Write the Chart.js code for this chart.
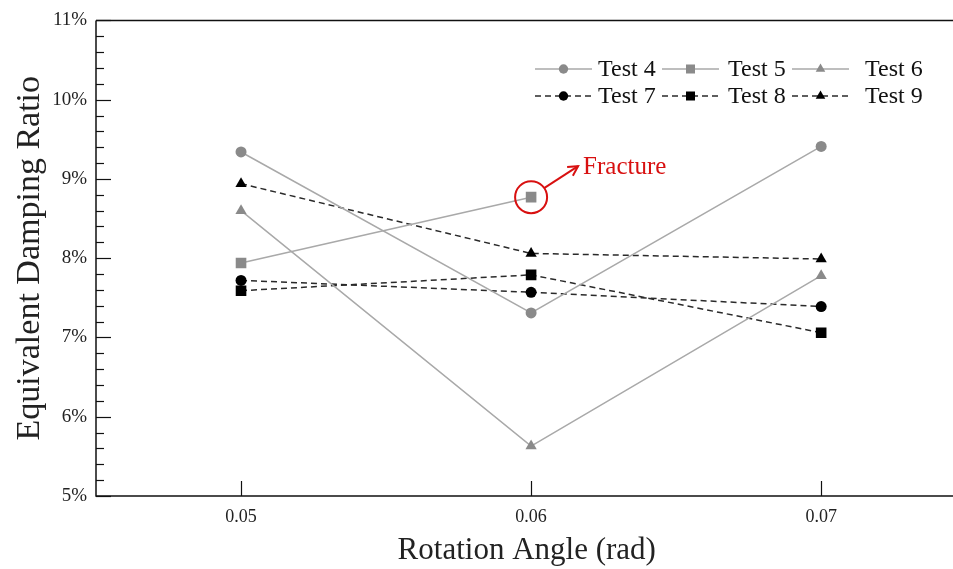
<!DOCTYPE html>
<html>
<head>
<meta charset="utf-8">
<script src="https://cdn.jsdelivr.net/npm/chart.js@4/dist/chart.umd.min.js"></script>
<style>
  body { margin: 0; background: #fff; overflow: hidden; }
  #wrap { width: 965px; height: 569px; }
</style>
</head>
<body>
<div id="wrap"><canvas id="chart" width="965" height="569"></canvas></div>
<script>
// Rotation angle (rad) on the x axis
const angles = [0.05, 0.06, 0.07];

// Equivalent damping ratio (%) per test
const test4 = [9.34, 7.31, 9.41];
const test5 = [7.94, 8.77, null];   // fractured after 0.06 rad
const test6 = [8.60, 5.63, 7.78];
const test7 = [7.72, 7.57, 7.39];
const test8 = [7.59, 7.79, 7.06];
const test9 = [8.94, 8.06, 7.99];

const seriesNames = ['Test 4', 'Test 5', 'Test 6', 'Test 7', 'Test 8', 'Test 9'];
const seriesValues = [test4, test5, test6, test7, test8, test9];
const seriesMarkers = ['circle', 'rect', 'triangle', 'circle', 'rect', 'triangle'];

const SERIF = '"Liberation Serif", "DejaVu Serif", serif';
const GREY_LINE = '#a9a9a9';
const GREY_MARK = '#8a8a8a';
const RED = '#d81010';

function toPoints(values) {
    return angles.map((a, i) => ({ x: a, y: values[i] })).filter(p => p.y !== null);
}

function markerRadius(style) {
    if (style === 'rect') return 7.5;
    if (style === 'triangle') return 6.5;
    return 5.5;
}

const datasets = seriesNames.map((name, i) => {
    const dashed = i >= 3;
    const marker = seriesMarkers[i];
    return {
        label: name,
        data: toPoints(seriesValues[i]),
        borderColor: dashed ? '#2a2a2a' : GREY_LINE,
        borderWidth: 1.5,
        borderDash: dashed ? [6, 4] : [],
        backgroundColor: dashed ? '#000' : GREY_MARK,
        pointBackgroundColor: dashed ? '#000' : GREY_MARK,
        pointBorderColor: dashed ? '#000' : GREY_MARK,
        pointBorderWidth: 0,
        pointStyle: marker,
        pointRadius: markerRadius(marker),
        tension: 0,
        fill: false
    };
});

// Frame, inward tick marks, legend and the fracture note
const decorations = {
    id: 'decorations',
    afterDraw(chart) {
        const ctx = chart.ctx;
        const area = chart.chartArea;
        const xs = chart.scales.x;
        const ys = chart.scales.y;

        ctx.save();
        ctx.strokeStyle = '#111';
        ctx.lineWidth = 1.5;
        ctx.setLineDash([]);
        ctx.beginPath();
        ctx.moveTo(area.left, area.top);
        ctx.lineTo(area.right, area.top);
        ctx.moveTo(area.left, area.top);
        ctx.lineTo(area.left, area.bottom);
        ctx.lineTo(area.right, area.bottom);
        ctx.stroke();

        // y ticks (major every 1%, minor every 0.2%)
        ctx.lineWidth = 1.2;
        ys.ticks.forEach(t => {
            const y = Math.round(ys.getPixelForValue(t.value)) + 0.5;
            const major = Math.abs(t.value - Math.round(t.value)) < 1e-6;
            ctx.beginPath();
            ctx.moveTo(area.left, y);
            ctx.lineTo(area.left + (major ? 15 : 8), y);
            ctx.stroke();
        });
        // x ticks
        xs.ticks.forEach(t => {
            const x = Math.round(xs.getPixelForValue(t.value)) + 0.5;
            ctx.beginPath();
            ctx.moveTo(x, area.bottom);
            ctx.lineTo(x, area.bottom - 15);
            ctx.stroke();
        });

        // legend, two rows of three
        const lineStarts = [535, 662, 792];
        const textStarts = [598, 728, 865];
        const rowY = [69, 96];
        ctx.font = '24px ' + SERIF;
        ctx.textBaseline = 'middle';
        ctx.textAlign = 'left';
        chart.data.datasets.forEach((ds, i) => {
            const col = i % 3;
            const y = rowY[Math.floor(i / 3)];
            const x0 = lineStarts[col];
            const x1 = x0 + 57;
            ctx.strokeStyle = ds.borderColor;
            ctx.lineWidth = ds.borderWidth;
            ctx.setLineDash(ds.borderDash);
            ctx.beginPath();
            ctx.moveTo(x0, y);
            ctx.lineTo(x1, y);
            ctx.stroke();
            ctx.setLineDash([]);
            ctx.fillStyle = ds.pointBackgroundColor;
            ctx.strokeStyle = ds.pointBorderColor;
            Chart.helpers.drawPoint(ctx, {
                pointStyle: ds.pointStyle,
                radius: ds.pointRadius * 0.85,
                rotation: 0,
                borderWidth: 0
            }, (x0 + x1) / 2, y);
            ctx.fillStyle = '#111';
            ctx.fillText(ds.label, textStarts[col], y + 1);
        });

        // fracture marker around Test 5 at 0.06 rad
        const px = xs.getPixelForValue(angles[1]);
        const py = ys.getPixelForValue(test5[1]);
        ctx.strokeStyle = RED;
        ctx.fillStyle = RED;
        ctx.lineWidth = 2;
        ctx.beginPath();
        ctx.arc(px, py, 16, 0, Math.PI * 2);
        ctx.stroke();
        const sx = px + 13, sy = py - 9;
        const ex = px + 47, ey = py - 31;
        ctx.beginPath();
        ctx.moveTo(sx, sy);
        ctx.lineTo(ex, ey);
        ctx.stroke();
        const ang = Math.atan2(ey - sy, ex - sx);
        ctx.beginPath();
        ctx.moveTo(ex - 11 * Math.cos(ang - 0.5), ey - 11 * Math.sin(ang - 0.5));
        ctx.lineTo(ex, ey);
        ctx.lineTo(ex - 11 * Math.cos(ang + 0.5), ey - 11 * Math.sin(ang + 0.5));
        ctx.stroke();
        ctx.font = '25px ' + SERIF;
        ctx.textAlign = 'left';
        ctx.textBaseline = 'middle';
        ctx.fillText('Fracture', ex + 5, ey + 1);
        ctx.restore();
    }
};

new Chart(document.getElementById('chart'), {
    type: 'line',
    data: { datasets: datasets },
    plugins: [decorations],
    options: {
        responsive: false,
        animation: false,
        layout: { padding: { top: 19, right: 0, left: 0, bottom: 0 } },
        plugins: {
            legend: { display: false },
            tooltip: { enabled: false }
        },
        scales: {
            x: {
                type: 'linear',
                min: 0.045,
                max: 0.0747,
                afterBuildTicks: scale => {
                    scale.ticks = angles.map(v => ({ value: v }));
                },
                afterFit: scale => { scale.height = 73; },
                grid: { display: false, drawTicks: false },
                border: { display: false },
                ticks: {
                    padding: 10,
                    color: '#222',
                    font: { family: SERIF, size: 18 },
                    callback: v => v.toFixed(2)
                },
                title: {
                    display: true,
                    text: 'Rotation Angle (rad)',
                    color: '#222',
                    font: { family: SERIF, size: 31 },
                    padding: { top: 6, bottom: 0 }
                }
            },
            y: {
                min: 5,
                max: 11,
                afterFit: scale => { scale.width = 96; },
                grid: { display: false, drawTicks: false },
                border: { display: false },
                ticks: {
                    stepSize: 0.2,
                    autoSkip: false,
                    padding: 9,
                    color: '#222',
                    font: { family: SERIF, size: 19 },
                    callback: v => Math.abs(v - Math.round(v)) < 1e-6 ? Math.round(v) + '%' : ''
                },
                title: {
                    display: true,
                    text: 'Equivalent Damping Ratio',
                    color: '#222',
                    font: { family: SERIF, size: 34 },
                    padding: { top: 10, bottom: 0 }
                }
            }
        }
    }
});
</script>
</body>
</html>
